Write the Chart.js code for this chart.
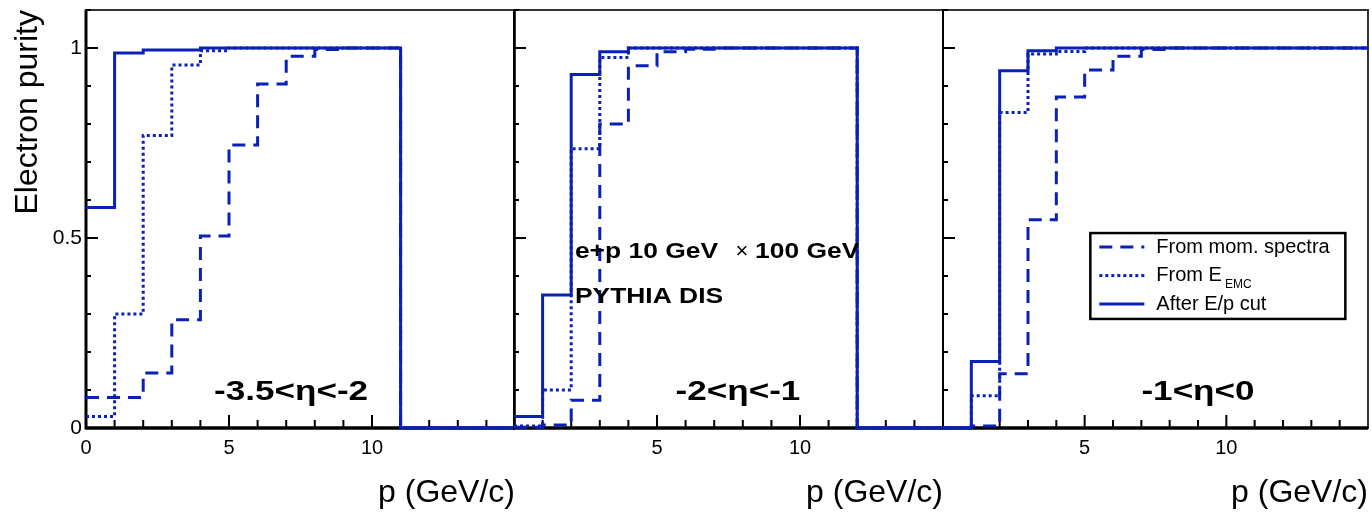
<!DOCTYPE html>
<html>
<head>
<meta charset="utf-8">
<script src="https://cdn.jsdelivr.net/npm/chart.js@4.4.1/dist/chart.umd.min.js"></script>
<style>
  body { margin: 0; background: #fff; }
  #wrap { position: relative; width: 1372px; height: 514px; background: #fff; }
  #wrap canvas { position: absolute; left: 0; top: 0; }
</style>
</head>
<body>
<div id="wrap">
  <canvas id="panel1" width="1372" height="514"></canvas>
  <canvas id="panel2" width="1372" height="514"></canvas>
  <canvas id="panel3" width="1372" height="514"></canvas>
</div>
<script>
// bin edges in p (GeV/c), one value per bin below
const pBins = [0, 1, 2, 3, 4, 5, 6, 7, 8, 9, 10, 11, 12, 13, 14, 15];

// -3.5 < eta < -2
const momBackward = [0.08, 0.08, 0.145, 0.285, 0.505, 0.745, 0.905, 0.978, 0.996, 1, 1, 0, 0, 0, 0];
const emcBackward = [0.03, 0.30, 0.77, 0.955, 0.993, 1, 1, 1, 1, 1, 1, 0, 0, 0, 0];
const epBackward  = [0.58, 0.987, 0.995, 0.995, 1, 1, 1, 1, 1, 1, 1, 0, 0, 0, 0];

// -2 < eta < -1
const momMid = [0.002, 0.008, 0.073, 0.80, 0.953, 0.99, 0.997, 1, 1, 1, 1, 1, 0, 0, 0];
const emcMid = [0.005, 0.10, 0.735, 0.975, 1, 1, 1, 1, 1, 1, 1, 1, 0, 0, 0];
const epMid  = [0.03, 0.35, 0.93, 0.99, 1, 1, 1, 1, 1, 1, 1, 1, 0, 0, 0];

// -1 < eta < 0
const momCentral = [0, 0.005, 0.143, 0.548, 0.871, 0.942, 0.978, 0.996, 1, 1, 1, 1, 1, 1, 1];
const emcCentral = [0, 0.085, 0.83, 0.984, 0.991, 1, 1, 1, 1, 1, 1, 1, 1, 1, 1];
const epCentral  = [0, 0.175, 0.94, 0.993, 1, 1, 1, 1, 1, 1, 1, 1, 1, 1, 1];

const seriesNames = ["From mom. spectra", "From E_EMC", "After E/p cut"];
const etaLabels = ["-3.5<η<-2", "-2<η<-1", "-1<η<0"];
const xTickValues = [0, 5, 10];
const yTickValues = [0, 0.5, 1];
const yTickLabels = ["0", "0.5", "1"];

const blue = "#0b20b4";
const fontFamily = "'Liberation Sans', Arial, Helvetica, sans-serif";
Chart.defaults.font.family = fontFamily;
Chart.defaults.color = "#000";

// histogram -> points for a stepped line
function toSteps(values) {
  const pts = values.map((v, i) => ({ x: pBins[i], y: v }));
  pts.push({ x: pBins[values.length], y: values[values.length - 1] });
  return pts;
}

function drawText(ctx, text, px, py, font, sx, align) {
  ctx.save();
  ctx.translate(px, py);
  ctx.scale(sx, 1);
  ctx.font = font;
  ctx.fillStyle = "#000";
  ctx.textAlign = align;
  ctx.textBaseline = "middle";
  ctx.fillText(text, 0, 0);
  ctx.restore();
}

function line(ctx, x1, y1, x2, y2) {
  ctx.beginPath();
  ctx.moveTo(x1, y1);
  ctx.lineTo(x2, y2);
  ctx.stroke();
}

// frame + inward ticks, drawn under the histograms
const framePlugin = {
  id: "frame",
  beforeDatasetsDraw(chart, args, opts) {
    const { ctx, chartArea: a, scales: { x, y } } = chart;
    ctx.save();
    ctx.strokeStyle = "#333";
    ctx.lineWidth = 2;
    ctx.strokeRect(a.left, a.top, a.right - a.left, a.bottom - a.top);
    ctx.strokeStyle = "#000";
    ctx.lineWidth = opts.axisWidth;
    line(ctx, a.left, a.top, a.left, a.bottom + 1.5);
    ctx.lineWidth = 3.5;
    line(ctx, a.left, a.bottom, a.right, a.bottom);
    ctx.lineWidth = 2;
    for (let v = 1; v < 15; v++) {
      const px = x.getPixelForValue(v);
      line(ctx, px, a.bottom, px, a.bottom - (v % 5 === 0 ? 13 : 8));
    }
    for (let i = 1; i <= 11; i++) {
      const py = y.getPixelForValue(i / 10);
      line(ctx, a.left, py, a.left + (i % 5 === 0 ? 12 : 5), py);
    }
    ctx.restore();
  }
};

// eta range label + extras per panel
const textPlugin = {
  id: "panelText",
  afterDatasetsDraw(chart, args, opts) {
    const { ctx, scales: { x, y } } = chart;
    drawText(ctx, opts.eta, x.getPixelForValue(opts.etaX), y.getPixelForValue(0.093),
      "bold 27px " + fontFamily, 1.3, "center");
    if (opts.beam) {
      const top = y.getPixelForValue(0.463);
      drawText(ctx, "e+p 10 GeV", x.getPixelForValue(2.13), top, "bold 22px " + fontFamily, 1.2, "left");
      drawText(ctx, "×", x.getPixelForValue(7.97), top, "22px " + fontFamily, 1, "center");
      drawText(ctx, "100 GeV", x.getPixelForValue(8.43), top, "bold 22px " + fontFamily, 1.2, "left");
      drawText(ctx, "PYTHIA DIS", x.getPixelForValue(2.13), y.getPixelForValue(0.345),
        "bold 22px " + fontFamily, 1.2, "left");
    }
    if (opts.legend) {
      const bx1 = x.getPixelForValue(5.2), bx2 = x.getPixelForValue(14.2);
      const by1 = y.getPixelForValue(0.513), by2 = y.getPixelForValue(0.287);
      ctx.save();
      ctx.strokeStyle = "#000";
      ctx.lineWidth = 2.5;
      ctx.strokeRect(bx1, by1, bx2 - bx1, by2 - by1);
      const rows = chart.data.datasets.slice().reverse();
      rows.forEach((ds, i) => {
        const ry = by1 + 14 + i * 28.5;
        ctx.strokeStyle = ds.borderColor;
        ctx.lineWidth = ds.borderWidth;
        ctx.setLineDash(ds.borderDash || []);
        line(ctx, bx1 + 9, ry, bx1 + 54, ry);
        ctx.setLineDash([]);
        const parts = ds.label.split("_");
        ctx.font = "20px " + fontFamily;
        ctx.fillStyle = "#000";
        ctx.textAlign = "left";
        ctx.textBaseline = "middle";
        ctx.fillText(parts[0], bx1 + 66, ry);
        if (parts[1]) {
          const w = ctx.measureText(parts[0]).width;
          ctx.font = "12px " + fontFamily;
          ctx.fillText(parts[1], bx1 + 69 + w, ry + 9);
        }
      });
      ctx.restore();
    }
  }
};

function makePanel(id, left, right, mom, emc, ep, textOpts, first) {
  return new Chart(document.getElementById(id), {
    type: "line",
    data: {
      datasets: [
        { label: seriesNames[2], data: toSteps(ep), borderColor: blue, borderWidth: 3, stepped: true,
          pointRadius: 0, fill: false, clip: 4 },
        { label: seriesNames[1], data: toSteps(emc), borderColor: blue, borderWidth: 3, stepped: true,
          borderDash: [3, 3], pointRadius: 0, fill: false, clip: 4 },
        { label: seriesNames[0], data: toSteps(mom), borderColor: blue, borderWidth: 3, stepped: true,
          borderDash: [13, 8], pointRadius: 0, fill: false, clip: 4 }
      ]
    },
    options: {
      responsive: false,
      animation: false,
      devicePixelRatio: 1,
      events: [],
      layout: { padding: { left: 0, right: 1372 - right, top: 10, bottom: 0 } },
      plugins: {
        legend: { display: false },
        tooltip: { enabled: false },
        frame: { axisWidth: first ? 3 : 2 },
        panelText: textOpts
      },
      scales: {
        x: {
          type: "linear",
          min: 0,
          max: 15,
          grid: { display: false, drawTicks: false },
          border: { display: false },
          ticks: {
            stepSize: 5,
            autoSkip: false,
            maxRotation: 0,
            padding: 8,
            font: { size: 20 },
            callback: v => (xTickValues.includes(v) && (first || v !== 0)) ? String(v) : null
          },
          title: { display: true, text: "p (GeV/c)", align: "end", font: { size: 32 }, padding: { top: 0, bottom: 2 } },
          afterFit: s => { s.height = 86; s.paddingLeft = 0; s.paddingRight = 0; }
        },
        y: {
          min: 0,
          max: 1.1,
          grid: { display: false, drawTicks: false },
          border: { display: false },
          ticks: {
            display: first,
            stepSize: 0.5,
            autoSkip: false,
            padding: 4,
            font: { size: 21 },
            callback: v => {
              const k = yTickValues.findIndex(t => Math.abs(t - v) < 1e-6);
              return k >= 0 ? yTickLabels[k] : null;
            }
          },
          title: { display: first, text: "Electron purity", align: "end", font: { size: 32 }, padding: { top: 9, bottom: 0 } },
          afterFit: s => { s.width = left; s.paddingTop = 0; s.paddingBottom = 0; }
        }
      }
    },
    plugins: [framePlugin, textPlugin]
  });
}

makePanel("panel1", 86, 515, momBackward, emcBackward, epBackward, { eta: etaLabels[0], etaX: 7.17 }, true);
makePanel("panel2", 514, 943, momMid, emcMid, epMid, { eta: etaLabels[1], etaX: 7.83, beam: true }, false);
makePanel("panel3", 943, 1368, momCentral, emcCentral, epCentral, { eta: etaLabels[2], etaX: 9.0, legend: true }, false);
</script>
</body>
</html>
